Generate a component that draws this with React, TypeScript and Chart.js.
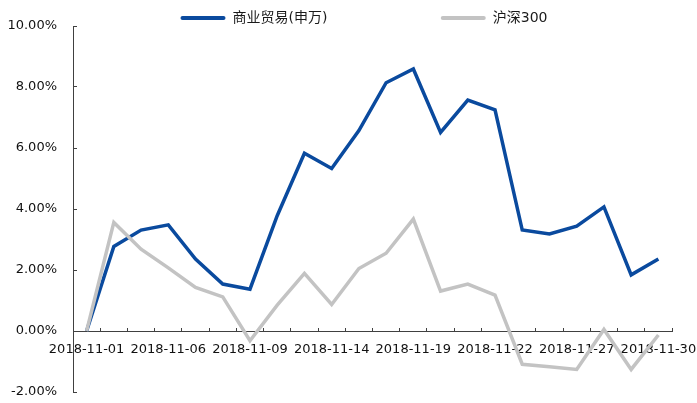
import React, { useEffect, useRef } from "react";
import { Chart, registerables } from "chart.js";

Chart.register(...registerables);

const dates = [
  "2018-11-01", "2018-11-02", "2018-11-05", "2018-11-06", "2018-11-07", "2018-11-08",
  "2018-11-09", "2018-11-12", "2018-11-13", "2018-11-14", "2018-11-15", "2018-11-16",
  "2018-11-19", "2018-11-20", "2018-11-21", "2018-11-22", "2018-11-23", "2018-11-26",
  "2018-11-27", "2018-11-28", "2018-11-29", "2018-11-30",
];

const tradeSeries = [
  0, 2.77, 3.31, 3.48, 2.36, 1.54, 1.37, 3.78, 5.83, 5.33, 6.57, 8.14,
  8.59, 6.51, 7.57, 7.25, 3.31, 3.18, 3.44, 4.07, 1.84, 2.36,
];

const hs300Series = [
  0, 3.56, 2.68, 2.07, 1.43, 1.12, -0.32, 0.85, 1.89, 0.87, 2.05, 2.55,
  3.67, 1.31, 1.54, 1.18, -1.09, -1.17, -1.26, 0.05, -1.26, -0.13,
];

const seriesNames = ["商业贸易(申万)", "沪深300"];
const yTicks = { min: -2, max: 10, step: 2 };

const BLUE = "#0A4A9E";
const GRAY = "#C3C3C3";
const AXIS = "#404040";
const FONT = '"DejaVu Sans", "Noto Sans CJK SC", sans-serif';

const legendPlugin = {
  id: "legendTweak",
  beforeLayout(chart: any) {
    const lg = chart.legend;
    if (lg && !lg._patchedFit) {
      const orig = lg.fit.bind(lg);
      lg.fit = function () {
        orig();
        lg.height = 26;
      };
      lg._patchedFit = true;
    }
  },
  afterLayout(chart: any) {
    const lg = chart.legend;
    if (lg) {
      lg.left += 28;
      lg.right += 28;
    }
  },
};

export default function App() {
  const ref = useRef<HTMLCanvasElement | null>(null);
  useEffect(() => {
    if (!ref.current) return;
    const chart = new Chart(ref.current, {
      type: "line",
      data: {
        labels: dates,
        datasets: [
          {
            label: seriesNames[0],
            data: tradeSeries,
            borderColor: BLUE,
            backgroundColor: BLUE,
            borderWidth: 3.5,
            pointRadius: 0,
            tension: 0,
            order: 1,
          },
          {
            label: seriesNames[1],
            data: hs300Series,
            borderColor: GRAY,
            backgroundColor: GRAY,
            borderWidth: 3.5,
            pointRadius: 0,
            tension: 0,
            order: 0,
          },
        ],
      },
      options: {
        animation: false,
        responsive: false,
        devicePixelRatio: 1,
        layout: { padding: { left: 0, right: 25, top: 0, bottom: 11 } },
        plugins: {
          tooltip: { enabled: false },
          legend: {
            position: "top",
            labels: {
              font: { family: FONT, size: 14 },
              color: "#1a1a1a",
              boxWidth: 45,
              boxHeight: 4,
              padding: 11,
              useBorderRadius: true,
              borderRadius: 2,
              sort: (a: any, b: any) => a.datasetIndex - b.datasetIndex,
              generateLabels: (chart: any) => {
                const pads = [" ".repeat(23), ""];
                return chart.data.datasets.map((ds: any, i: number) => ({
                  text: ds.label + pads[i],
                  fillStyle: ds.borderColor,
                  strokeStyle: ds.borderColor,
                  lineWidth: 0,
                  hidden: false,
                  datasetIndex: i,
                  borderRadius: 2,
                  fontColor: "#1a1a1a",
                }));
              },
            },
          },
        },
        scales: {
          x: {
            type: "category",
            position: { y: 0 } as any,
            offset: true,
            grid: {
              offset: true,
              drawOnChartArea: false,
              drawTicks: true,
              tickLength: -4,
              color: AXIS,
              lineWidth: 1,
            },
            border: { display: true, color: AXIS, width: 1 },
            ticks: {
              autoSkip: false,
              maxRotation: 0,
              minRotation: 0,
              padding: 15,
              color: "#111",
              font: { family: FONT, size: 13 },
              callback: (_v: any, i: number) => (i % 3 === 0 ? dates[i] : ""),
            },
            afterFit: (s: any) => {
              s.paddingLeft = 0;
              s.paddingRight = 0;
            },
          },
          y: {
            type: "linear",
            position: "left",
            min: yTicks.min,
            max: yTicks.max,
            grid: {
              drawOnChartArea: false,
              drawTicks: true,
              tickLength: -4,
              color: AXIS,
            },
            border: { display: true, color: AXIS, width: 1 },
            ticks: {
              stepSize: yTicks.step,
              padding: 20,
              color: "#111",
              font: { family: FONT, size: 13 },
              callback: (v: any) => Number(v).toFixed(2) + "%",
            },
            afterFit: (s: any) => {
              s.width = 73;
              s.paddingTop = 0;
              s.paddingBottom = 0;
            },
          },
        },
      },
      plugins: [legendPlugin],
    } as any);
    return () => chart.destroy();
  }, []);
  return (
    <div style={{ position: "fixed", left: 0, top: 0, width: 697, height: 403, background: "#fff" }}>
      <canvas ref={ref} width={697} height={403} />
    </div>
  );
}
